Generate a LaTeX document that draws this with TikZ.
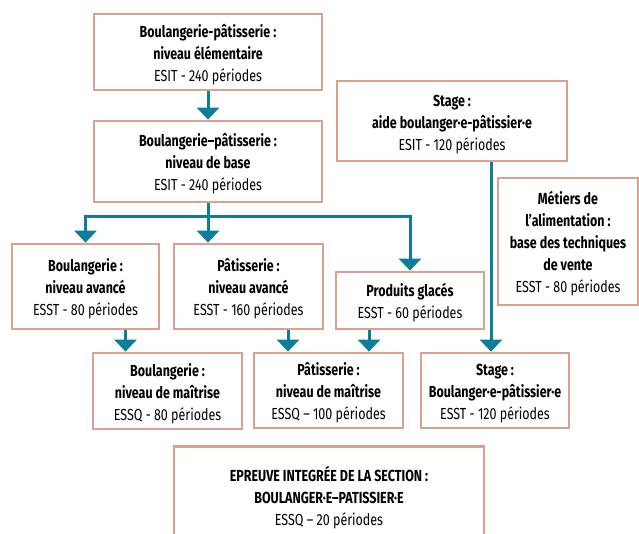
\documentclass[tikz,border=0pt]{standalone}
\usepackage{fontspec}
\setmainfont{Fira Sans}[FakeStretch=0.78]
\usetikzlibrary{arrows.meta}
\definecolor{bord}{HTML}{D9A28E}
\definecolor{arrowcol}{HTML}{0B7F99}
\newcommand\topstrut{\rule{0pt}{18pt}}
\tikzset{
  txt/.style={font=\fontsize{16}{22}\selectfont},
  box/.style={draw=bord, line width=2.8pt, inner sep=0pt, align=center,
    txt, fill=white},
  arr/.style={draw=arrowcol, line width=3pt, -{Triangle[width=22pt,length=12pt]}}
}
\begin{document}
\begin{tikzpicture}[x=1pt,y=-1pt]
\useasboundingbox (0,0) rectangle (639,534);
\clip (0,0) rectangle (639,534);
\node[box, minimum width=228pt, minimum height=76pt] (e1) at (208,52)
  {\topstrut\textbf{Boulangerie-pâtisserie :}\\\textbf{niveau élémentaire}\\ESIT - 240 périodes};
\node[box, minimum width=228pt, minimum height=81pt] (base) at (208,161.5)
  {\topstrut\textbf{Boulangerie–pâtisserie :}\\\textbf{niveau de base}\\ESIT - 240 périodes};
\node[box, minimum width=230pt, minimum height=80pt] (sa) at (452,121)
  {\topstrut\textbf{Stage :}\\\textbf{aide boulanger·e-pâtissier·e}\\ESIT - 120 périodes};
\node[box, minimum width=140pt, minimum height=127pt] (me) at (568,241.5)
  {\topstrut\textbf{Métiers de}\\\textbf{l’alimentation :}\\\textbf{base des techniques}\\\textbf{de vente}\\ESST - 80 périodes};
\node[box, minimum width=147pt, minimum height=85pt] (ba) at (85.5,286.5)
  {\topstrut\textbf{Boulangerie :}\\\textbf{niveau avancé}\\ESST - 80 périodes};
\node[box, minimum width=149pt, minimum height=85pt] (pa) at (248.5,286.5)
  {\topstrut\textbf{Pâtisserie :}\\\textbf{niveau avancé}\\ESST - 160 périodes};
\node[box, minimum width=148pt, minimum height=57pt] (pg) at (410,300.5)
  {\topstrut\textbf{Produits glacés}\\ESST - 60 périodes};
\node[box, minimum width=149pt, minimum height=76pt] (bm) at (167.5,391)
  {\topstrut\textbf{Boulangerie :}\\\textbf{niveau de maîtrise}\\ESSQ - 80 périodes};
\node[box, minimum width=149pt, minimum height=75pt] (pm) at (328.5,390.5)
  {\topstrut\textbf{Pâtisserie :}\\\textbf{niveau de maîtrise}\\ESSQ – 100 périodes};
\node[box, minimum width=148pt, minimum height=75pt] (sb) at (495,390.5)
  {\topstrut\textbf{Stage :}\\\textbf{Boulanger·e-pâtissier·e}\\ESST - 120 périodes};
\node[box, minimum width=310pt, minimum height=110pt, anchor=north] (ep) at (329,445)
  {};
\node[align=center, txt, anchor=north] (ept) at (ep.north |- 0,463)
  {\textbf{EPREUVE INTEGRÉE DE LA SECTION :}\\\textbf{BOULANGER·E–PATISSIER·E}\\ESSQ – 20 périodes};
\coordinate (br) at (208,217);
\draw[arr] (e1.south) -- (base.north);
\draw[arr] (base.south) -- (br) -- (br -| ba.north) -- (ba.north);
\draw[arr] (br) -- (br |- pa.north);
\draw[arr] (br) -- (br -| pg.north) -- (pg.north);
\draw[arr] ([xshift=40pt]ba.south) -- ([xshift=40pt]ba.south |- bm.north);
\draw[arr] ([xshift=39.5pt]pa.south) -- ([xshift=39.5pt]pa.south |- pm.north);
\draw[arr] ([xshift=-41pt]pg.south) -- ([xshift=-41pt]pg.south |- pm.north);
\draw[arr] ([xshift=39pt]sa.south) -- ([xshift=39pt]sa.south |- sb.north);
\end{tikzpicture}
\end{document}
